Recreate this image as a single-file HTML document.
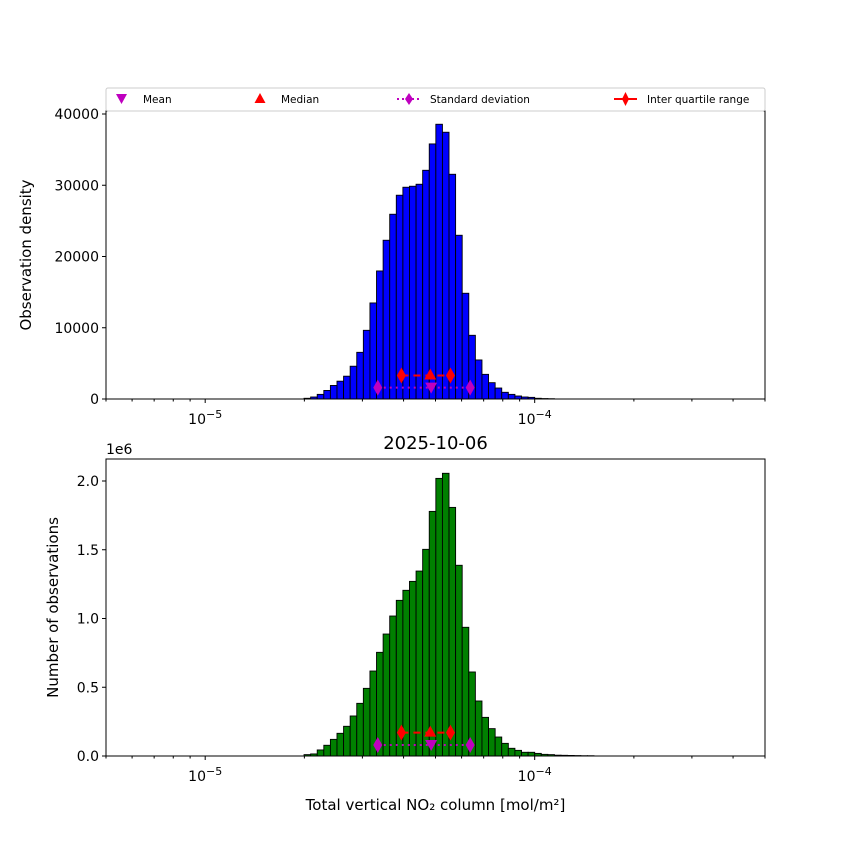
<!DOCTYPE html>
<html><head><meta charset="utf-8"><style>
body{margin:0;background:#fff}
svg{display:block;font-family:"DejaVu Sans","Liberation Sans",sans-serif}
</style></head><body>
<svg id="fig" width="850" height="850" viewBox="0 0 850 850"></svg>
<script>
// ---- data ----
const binStartLog = -4.70;      // log10 of first bin's left edge
const binWidthLog = 0.02;       // bin width in decades
const densityCounts = [100,280,650,1200,1900,2500,3200,4600,6550,9640,13480,17970,22280,25930,28600,29720,29860,30140,32100,35800,38560,37440,31540,22980,14840,8940,5480,3460,2290,1540,940,650,420,280,230,100,60,40];
const obsCounts = [0.01,0.015,0.044,0.078,0.121,0.165,0.216,0.291,0.383,0.492,0.618,0.754,0.887,1.018,1.132,1.205,1.270,1.345,1.503,1.779,2.019,2.056,1.808,1.387,0.936,0.611,0.400,0.281,0.199,0.138,0.092,0.056,0.041,0.027,0.027,0.019,0.012,0.010,0.006,0.005,0.004,0.003,0.002,0.002];
const statMean = 4.85e-5, statMedian = 4.82e-5;
const statStd = [3.34e-5, 6.37e-5];
const statIqr = [3.94e-5, 5.55e-5];
const topStatY = {iqr:3300, std:1600};
const botStatY = {iqr:0.17, std:0.08};
const topYTicks = [0,10000,20000,30000,40000];
const botYTicks = ["0.0","0.5","1.0","1.5","2.0"];
const xMajor = [-5,-4];
const xMin = 5e-6, xMax = 5e-4;

const NS="http://www.w3.org/2000/svg";
const svg=document.getElementById('fig');
function el(tag,attrs,parent){const e=document.createElementNS(NS,tag);for(const k in attrs)e.setAttribute(k,attrs[k]);(parent||svg).appendChild(e);return e;}
const L=106,R=765;
function xs(v){return L+(Math.log10(v)-Math.log10(xMin))/(Math.log10(xMax)-Math.log10(xMin))*(R-L);}

function panel(name,top,bottom,yMax,counts,color,yTicks,yTickVals,statsY,ylabel,ylabelX){
  const g=el('g',{});
  
  
  const ys=v=>bottom-(v/yMax)*(bottom-top);
  counts.forEach((c,i)=>{
    const x0=xs(Math.pow(10,binStartLog+i*binWidthLog)), x1=xs(Math.pow(10,binStartLog+(i+1)*binWidthLog));
    const r=el('rect',{x:x0,y:ys(c),width:x1-x0,height:bottom-ys(c),fill:color,stroke:'#000','stroke-width':0.9},g);
    
    
  });
  const yi=ys(statsY.iqr), yd=ys(statsY.std);
  const sl=el('line',{x1:xs(statStd[0]),x2:xs(statStd[1]),y1:yd,y2:yd,stroke:'#bf00bf','stroke-width':2,'stroke-dasharray':'2,4'},g);
  
  
  statStd.forEach(v=>{const d=el('path',{d:diamond(xs(v),yd),fill:'#bf00bf'},g);
    
    });
  const il=el('line',{x1:xs(statIqr[0]),x2:xs(statIqr[1]),y1:yi,y2:yi,stroke:'#f00','stroke-width':2,'stroke-dasharray':'7,5'},g);
  
  
  statIqr.forEach(v=>{const d=el('path',{d:diamond(xs(v),yi),fill:'#f00'},g);
    
    });
  const mx=xs(statMedian);
  const med=el('path',{d:`M${mx},${yi-7}L${mx+6},${yi+4}L${mx-6},${yi+4}Z`,fill:'#f00'},g);
  
  
  const mnx=xs(statMean);
  const mn=el('path',{d:`M${mnx-6},${yd-5}L${mnx+6},${yd-5}L${mnx},${yd+6}Z`,fill:'#bf00bf'},g);
  
  
  el('rect',{x:L,y:top,width:R-L,height:bottom-top,fill:'none',stroke:'#000','stroke-width':1},g);
  yTickVals.forEach((v,i)=>{
    const y=ys(v);
    el('line',{x1:L-4,x2:L,y1:y,y2:y,stroke:'#000'},g);
    const t=el('text',{x:L-7,y:y+5,'text-anchor':'end','font-size':14},g);t.textContent=yTicks[i];
    
    
  });
  for(let d=-6;d<=-4;d++)for(let m=1;m<10;m++){
    const v=m*Math.pow(10,d); if(v<xMin-1e-12||v>xMax*1.0001)continue;
    const x=xs(v);
    el('line',{x1:x,x2:x,y1:bottom,y2:bottom+(m===1?4:2.5),stroke:'#000'},g);
  }
  xMajor.forEach(p=>{
    const x=xs(Math.pow(10,p));
    const t=el('text',{x:x,y:bottom+25,'text-anchor':'middle','font-size':14},g);
    
    
    t.appendChild(document.createTextNode('10'));
    const s=el('tspan',{'font-size':11,dy:-6},t);s.textContent='\u2212'+(-p);
  });
  const yl=el('text',{x:ylabelX,y:(top+bottom)/2,'text-anchor':'middle','font-size':15,transform:`rotate(-90 ${ylabelX} ${(top+bottom)/2})`},g);
  yl.textContent=ylabel;
  
  
}
function diamond(x,y){return `M${x},${y-8}L${x+4.5},${y}L${x},${y+8}L${x-4.5},${y}Z`;}

panel('top',111,399,40000*(399-111)/(399-114),densityCounts,'#0000ff',topYTicks.map(String),topYTicks,topStatY,'Observation density',31);
panel('bottom',459,756,2.0*(756-459)/(756-481),obsCounts,'#008000',botYTicks,botYTicks.map(Number),botStatY,'Number of observations',58);

const lg=el('g',{});


el('rect',{x:106,y:88,width:659,height:23,fill:'#fff',stroke:'#ccc',rx:2},lg);
el('path',{d:'M116,94L127,94L121.5,104Z',fill:'#bf00bf'},lg);
el('path',{d:'M260,93L265.5,103L254.5,103Z',fill:'#f00'},lg);
el('line',{x1:397,x2:420,y1:99,y2:99,stroke:'#bf00bf','stroke-width':2,'stroke-dasharray':'2,3'},lg);
el('path',{d:'M409,93L413,99L409,105L405,99Z',fill:'#bf00bf'},lg);
el('line',{x1:614,x2:637,y1:99,y2:99,stroke:'#f00','stroke-width':2},lg);
el('path',{d:'M625.5,92L629,99L625.5,106L622,99Z',fill:'#f00'},lg);
[['Mean',143],['Median',281],['Standard deviation',430],['Inter quartile range',647]].forEach(([s,x])=>{
  const t=el('text',{x:x,y:103,'font-size':10.5},lg);t.textContent=s;
  
  
});

const title=el('text',{x:435.5,y:449,'text-anchor':'middle','font-size':18});title.textContent='2025-10-06';


const off=el('text',{x:106,y:454,'font-size':14});off.textContent='1e6';


const xl=el('text',{x:435.5,y:810,'text-anchor':'middle','font-size':15});xl.textContent='Total vertical NO\u2082 column [mol/m\u00b2]';


</script>
</body></html>
